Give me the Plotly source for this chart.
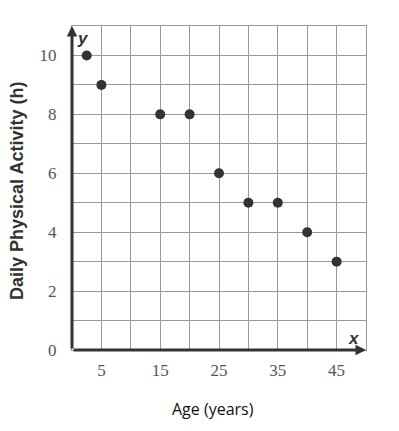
import plotly.graph_objects as go

ages = [2.5, 5, 15, 20, 25, 30, 35, 40, 45]
hours = [10, 9, 8, 8, 6, 5, 5, 4, 3]
x_ticks = [5, 15, 25, 35, 45]
y_ticks = [0, 2, 4, 6, 8, 10]
x_title = "Age (years)"
y_title = "Daily Physical Activity (h)"

# page body has an 8px margin; plot area target: x 72..366, y 26..350 in window
OFF = 8
L, T, R, B = 72, 26, 366, 350
W, H = 399 - OFF, 431 - OFF
PW, PH = R - L, B - T


def px_to_paper(px, py):
    return (px - L) / PW, (B - py) / PH


fig = go.Figure()
fig.add_trace(go.Scatter(
    x=ages, y=hours, mode="markers",
    marker=dict(size=10, color="#333333"),
    showlegend=False, hoverinfo="skip",
))

grid = "#999999"
tickfont = dict(family="Liberation Serif", size=17, color="#555555")

fig.update_xaxes(
    range=[0, 50], tickvals=x_ticks, ticktext=[str(v) for v in x_ticks],
    showgrid=True, gridcolor=grid, gridwidth=1,
    minor=dict(dtick=5, tick0=0, showgrid=True, gridcolor=grid, gridwidth=1),
    zeroline=False, showline=True, mirror=True, linecolor=grid, linewidth=1,
    ticks="", tickfont=tickfont, ticklabelstandoff=5, fixedrange=True,
)
fig.update_yaxes(
    range=[0, 11], tickvals=y_ticks, ticktext=[str(v) for v in y_ticks],
    showgrid=True, gridcolor=grid, gridwidth=1,
    minor=dict(dtick=1, tick0=0, showgrid=True, gridcolor=grid, gridwidth=1),
    zeroline=False, showline=True, mirror=True, linecolor=grid, linewidth=1,
    ticks="", tickfont=tickfont, ticklabelstandoff=11, fixedrange=True,
)

axis_col = "#333333"
fig.add_annotation(x=0, y=11, ax=0, ay=0, xref="x", yref="y", axref="x", ayref="y",
                   showarrow=True, arrowhead=2, arrowsize=0.7, arrowwidth=3,
                   arrowcolor=axis_col, text="", standoff=0, startstandoff=0)
fig.add_annotation(x=50, y=0, ax=0, ay=0, xref="x", yref="y", axref="x", ayref="y",
                   showarrow=True, arrowhead=2, arrowsize=0.7, arrowwidth=3,
                   arrowcolor=axis_col, text="", standoff=0, startstandoff=0)

letter_font = dict(family="Liberation Sans", size=17, color="#333333")
px, py = px_to_paper(83, 38)
fig.add_annotation(x=px, y=py, xref="paper", yref="paper", text="<b><i>y</i></b>",
                   xanchor="center", yanchor="middle", showarrow=False, font=letter_font)
px, py = px_to_paper(354, 338)
fig.add_annotation(x=px, y=py, xref="paper", yref="paper", text="<b><i>x</i></b>",
                   xanchor="center", yanchor="middle", showarrow=False, font=letter_font)

px, py = px_to_paper(213, 409)
fig.add_annotation(x=px, y=py, xref="paper", yref="paper", text=x_title, showarrow=False,
                   xanchor="center", yanchor="middle",
                   font=dict(family="Open Sans", size=16, color="#111111"))
px, py = px_to_paper(17, 191)
fig.add_annotation(x=px, y=py, xref="paper", yref="paper", text="<b>" + y_title + "</b>",
                   textangle=-90, showarrow=False, xanchor="center", yanchor="middle",
                   font=dict(family="Liberation Sans", size=18, color="#333333"))

fig.update_layout(
    width=W, height=H,
    margin=dict(l=L - OFF, r=W - (R - OFF), t=T - OFF, b=H - (B - OFF)),
    paper_bgcolor="white", plot_bgcolor="white",
)
fig.write_html("out.html", config={"displayModeBar": False})
